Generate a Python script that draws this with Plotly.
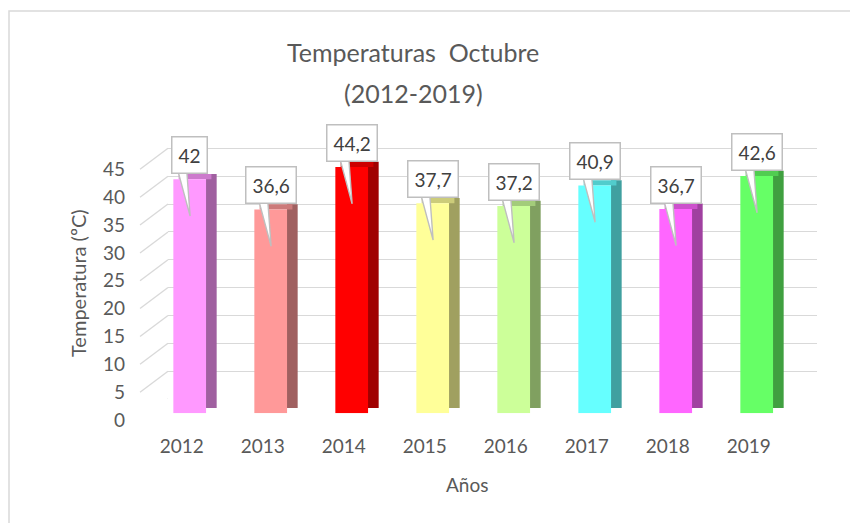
import plotly.graph_objects as go

# data
years = ["2012", "2013", "2014", "2015", "2016", "2017", "2018", "2019"]
temps = [42, 36.6, 44.2, 37.7, 37.2, 40.9, 36.7, 42.6]
bar_colors = ["#ff99ff", "#ff9999", "#ff0000", "#ffff99",
              "#ccff99", "#66ffff", "#ff66ff", "#66ff66"]
y_ticks = [0, 5, 10, 15, 20, 25, 30, 35, 40, 45]

W, H = 858, 523
OFF = 8  # the page body margin pushes the figure 8px right/down
FONT = "Lato"
GREY = "#595959"


def shade(hex_color, k):
    h = hex_color.lstrip("#")
    r, g, b = (int(h[i:i + 2], 16) for i in (0, 2, 4))
    return "rgb({},{},{})".format(int(r * k), int(g * k), int(b * k))


# screen pixel -> paper fraction
def px_x(p):
    return (p - OFF) / W


def px_y(p):
    return (H - (p - OFF)) / H


xs = list(range(len(years)))
labels = [f"{v:g}".replace(".", ",") for v in temps]
depth = 0.95  # 3d depth of the columns, in axis units

fig = go.Figure()

# side face of the columns
fig.add_trace(go.Bar(
    x=xs, y=temps, base=[depth] * len(xs), xaxis="x2", yaxis="y2",
    offset=0.201, width=0.132,
    marker=dict(color=[shade(c, 0.63) for c in bar_colors], line_width=0),
    hoverinfo="skip", showlegend=False,
))
# top face
fig.add_trace(go.Bar(
    x=xs, y=[depth] * len(xs), base=temps, xaxis="x2", yaxis="y2",
    offset=-0.136, width=0.404,
    marker=dict(color=[shade(c, 0.8) for c in bar_colors], line_width=0),
    hoverinfo="skip", showlegend=False,
))
# front face
fig.add_trace(go.Bar(
    x=xs, y=temps, xaxis="x2", yaxis="y2",
    offset=-0.202, width=0.404,
    marker=dict(color=bar_colors, line_width=0),
    showlegend=False,
))

# callout tails
tx, ty = [], []
for i, v in zip(xs, temps):
    tx += [i - 0.16, i - 0.04, i + 0.005, i - 0.16, None]
    ty += [v + 2.3, v + 2.3, v - 6.6, v + 2.3, None]
fig.add_trace(go.Scatter(
    x=tx, y=ty, xaxis="x2", yaxis="y2", mode="lines",
    fill="toself", fillcolor="white",
    line=dict(color="#bfbfbf", width=1.4),
    hoverinfo="skip", showlegend=False,
))

# empty trace so the back wall grid gets drawn
fig.add_trace(go.Scatter(x=[], y=[], xaxis="x", yaxis="y", showlegend=False))

for i, v, t in zip(xs, temps, labels):
    fig.add_annotation(
        x=i, y=v, xref="x2", yref="y2", yshift=24, text=t, showarrow=False,
        xanchor="center", yanchor="middle",
        bgcolor="white", bordercolor="#bfbfbf", borderwidth=1.5, borderpad=6,
        font=dict(family=FONT, size=19, color="#404040"),
    )

# diagonal grid pieces on the left wall
shapes = []
for t in y_ticks:
    shapes.append(dict(type="line", xref="paper", yref="y",
                       x0=px_x(140), x1=px_x(168), y0=t - 3.77, y1=t,
                       line=dict(color="#d9d9d9", width=1.3), layer="below"))
# chart border
shapes.append(dict(type="rect", xref="paper", yref="paper",
                   x0=px_x(9), x1=1.05, y0=-0.05, y1=px_y(11),
                   line=dict(color="#d9d9d9", width=1.5)))

fig.update_layout(
    width=W, height=H,
    margin=dict(l=0, r=0, t=0, b=0, autoexpand=False),
    paper_bgcolor="white", plot_bgcolor="rgba(0,0,0,0)",
    barmode="overlay",
    font=dict(family=FONT, color=GREY),
    shapes=shapes,
    # back wall grid + value labels
    xaxis=dict(domain=[px_x(168), px_x(817)], range=[0, 1], visible=False,
               anchor="y", automargin=False),
    yaxis=dict(domain=[px_y(399), px_y(399 - 47 * 5.57)], range=[0, 47],
               anchor="x", tickvals=y_ticks, showgrid=True, automargin=False,
               gridcolor="#d9d9d9", gridwidth=1.3, zeroline=False,
               showline=False, ticks="", ticklabelshift=21,
               ticklabelstandoff=42,
               tickfont=dict(family=FONT, size=19, color=GREY)),
    # columns
    xaxis2=dict(domain=[px_x(149.2), px_x(797.2)], range=[-0.5, 7.5],
                anchor="y2", tickvals=xs, ticktext=years, showgrid=False,
                zeroline=False, showline=False, ticks="", automargin=False,
                ticklabelshift=-8, ticklabelstandoff=20,
                tickfont=dict(family=FONT, size=19, color=GREY)),
    yaxis2=dict(domain=[px_y(413.3), px_y(413.3 - 50 * 5.57)], range=[0, 50],
                anchor="x2", visible=False, automargin=False),
)

# titles
for text, y, size, ang, x in [
    ("Temperaturas  Octubre", 52, 25, 0, 413),
    ("(2012-2019)", 93, 25, 0, 413),
    ("Temperatura (ºC)", 283, 20, -90, 78),
    ("Años", 484, 19, 0, 467),
]:
    fig.add_annotation(x=px_x(x), y=px_y(y), xref="paper", yref="paper",
                       xanchor="center", yanchor="middle", textangle=ang,
                       text=text, showarrow=False,
                       font=dict(family=FONT, size=size, color=GREY))

fig.write_html("out.html")
